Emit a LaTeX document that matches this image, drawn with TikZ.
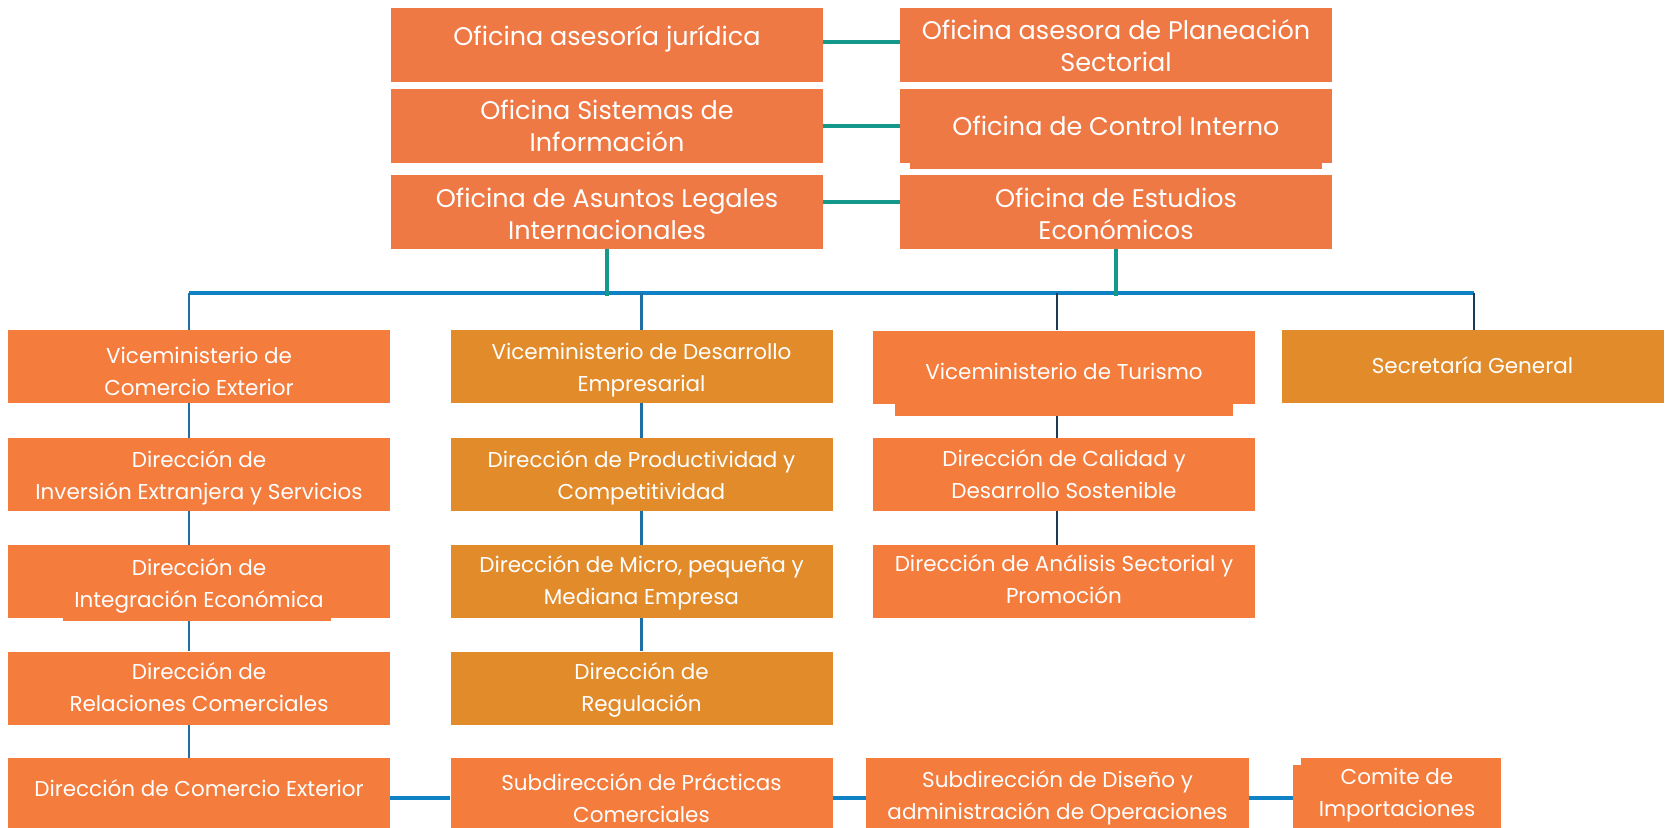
\documentclass[tikz,border=0pt]{standalone}
\usepackage{fontspec}
\setmainfont{Poppins}
\usetikzlibrary{backgrounds}
\definecolor{topc}{HTML}{EE7944}
\definecolor{orc}{HTML}{F47C3D}
\definecolor{ochc}{HTML}{E28B2B}
\definecolor{tealc}{HTML}{13988A}
\definecolor{busc}{HTML}{0E82C4}
\definecolor{bluec}{HTML}{1E70A4}
\definecolor{navyc}{HTML}{1B3A57}
% #1 box style, #2 name, #3 x, #4 y, #5 text shift (up), #6 text style, #7 text
\newcommand{\orgbox}[7]{%
  \node[#1] (#2) at (#3,#4) {};
  \node[#6] (#2t) at ([yshift=#5]#2.center) {#7};}
\begin{document}
\begin{tikzpicture}[x=1pt,y=-1pt,
  base/.style={inner sep=0pt},
  topbox/.style={base, fill=topc, minimum width=432pt, minimum height=74pt},
  lowbox/.style={base, minimum width=382pt, minimum height=73pt},
  orbox/.style={lowbox, fill=orc},
  ochbox/.style={lowbox, fill=ochc},
  toptxt/.style={inner sep=0pt, align=center, text=white, font=\fontsize{25.5}{32}\selectfont},
  lowtxt/.style={inner sep=0pt, align=center, text=white, font=\fontsize{21.5}{32}\selectfont},
  teal/.style={draw=tealc, line width=3.2pt},
  busline/.style={draw=busc, line width=3.2pt},
  blueline/.style={draw=bluec, line width=2.6pt},
  navyline/.style={draw=navyc, line width=2.6pt}]
\useasboundingbox (0,0) rectangle (1667,827);
\clip (0,0) rectangle (1667,827);

% top offices
\orgbox{topbox}{t1}{607}{45}{6.5pt}{toptxt}{Oficina asesoría jurídica}
\orgbox{topbox}{t2}{1116}{45}{-1pt}{toptxt}{Oficina asesora de Planeación\\Sectorial}
\orgbox{topbox}{t3}{607}{126}{0pt}{toptxt}{Oficina Sistemas de\\Información}
\fill[topc] (910,160) rectangle (1322,169);
\orgbox{topbox}{t4}{1116}{126}{0pt}{toptxt}{Oficina de Control Interno}
\orgbox{topbox}{t5}{607}{212}{-2pt}{toptxt}{Oficina de Asuntos Legales\\Internacionales}
\orgbox{topbox}{t6}{1116}{212}{-2pt}{toptxt}{Oficina de Estudios\\Económicos}

% column 1
\orgbox{orbox}{a1}{199}{366.5}{-5pt}{lowtxt}{Viceministerio de\\Comercio Exterior}
\orgbox{orbox}{a2}{199}{474.5}{-3pt}{lowtxt}{Dirección de\\Inversión Extranjera y Servicios}
\fill[orc] (63,616) rectangle (331,621);
\orgbox{orbox}{a3}{199}{581.5}{-4pt}{lowtxt}{Dirección de\\Integración Económica}
\orgbox{orbox}{a4}{199}{688}{1pt}{lowtxt}{Dirección de\\Relaciones Comerciales}
\orgbox{orbox,minimum height=80pt}{a5}{199}{798}{10pt}{lowtxt}{Dirección de Comercio Exterior}

% column 2
\orgbox{ochbox}{b1}{641.5}{366.5}{-4pt}{lowtxt}{Viceministerio de Desarrollo\\Empresarial}
\orgbox{ochbox}{b2}{641.5}{474.5}{-3pt}{lowtxt}{Dirección de Productividad y\\Competitividad}
\orgbox{ochbox}{b3}{641.5}{581.5}{-1pt}{lowtxt}{Dirección de Micro, pequeña y\\Mediana Empresa}
\orgbox{ochbox}{b4}{641.5}{688}{-2pt}{lowtxt}{Dirección de\\Regulación}
\orgbox{orbox,minimum height=80pt}{b5}{641.5}{798}{0pt}{lowtxt}{Subdirección de Prácticas\\Comerciales}

% column 3
\fill[orc] (895,400) rectangle (1233,416);
\orgbox{orbox}{c1}{1064}{367}{-4pt}{lowtxt}{Viceministerio de Turismo}
\orgbox{orbox}{c2}{1064}{474.5}{0pt}{lowtxt}{Dirección de Calidad y\\Desarrollo Sostenible}
\orgbox{orbox}{c3}{1064}{581.5}{2pt}{lowtxt}{Dirección de Análisis Sectorial y\\Promoción}
\orgbox{orbox,minimum width=383pt,minimum height=80pt}{c5}{1057.5}{798}{0pt}{lowtxt}{Subdirección de Diseño y\\administración de Operaciones}

% column 4
\orgbox{ochbox}{d1}{1472.5}{366.5}{1pt}{lowtxt}{Secretaría General}
\fill[orc] (1301,758) rectangle (1501,766);
\orgbox{orbox,minimum width=208pt,minimum height=73pt}{e1}{1397}{801.5}{6pt}{lowtxt}{Comite de\\Importaciones}

\coordinate (busL) at (189,293);
\coordinate (busR) at (1474,293);
\coordinate (c3x) at (1057,293);

\begin{pgfonlayer}{background}
\draw[teal] ([yshift=3pt]t1.east) -- ([yshift=3pt]t2.west);
\draw[teal] (t3.east) -- (t4.west);
\draw[teal] ([yshift=10pt]t5.east) -- ([yshift=10pt]t6.west);
\draw[busline] (busL) -- (busR);
\draw[blueline] (busL) -- (a1.north -| busL);
\draw[blueline] (a1.south -| busL) -- (a2.north -| busL);
\draw[blueline] (a2.south -| busL) -- (a3.north -| busL);
\draw[blueline] (a3.south -| busL) -- (a4.north -| busL);
\draw[blueline] (a4.south -| busL) -- (a5.north -| busL);
\draw[blueline] (b1.north |- busL) -- (b1.north);
\draw[blueline] (b1.south) -- (b2.north);
\draw[blueline] (b2.south) -- (b3.north);
\draw[blueline] (b3.south) -- (b4.north);
\draw[navyline] (c3x) -- (c1.north -| c3x);
\draw[navyline] (c1.south -| c3x) -- (c2.north -| c3x);
\draw[navyline] (c2.south -| c3x) -- (c3.north -| c3x);
\draw[navyline] (busR) -- (d1.north -| busR);
\draw[teal] (t5.south) -- ([yshift=-3pt]t5.south |- busL);
\draw[teal] (t6.south) -- ([yshift=-3pt]t6.south |- busL);
\draw[busline] (a5.east) -- (b5.west);
\draw[busline] (b5.east) -- (c5.west);
\draw[busline] (c5.east) -- (e1.west |- c5.east);
\end{pgfonlayer}
\end{tikzpicture}
\end{document}
